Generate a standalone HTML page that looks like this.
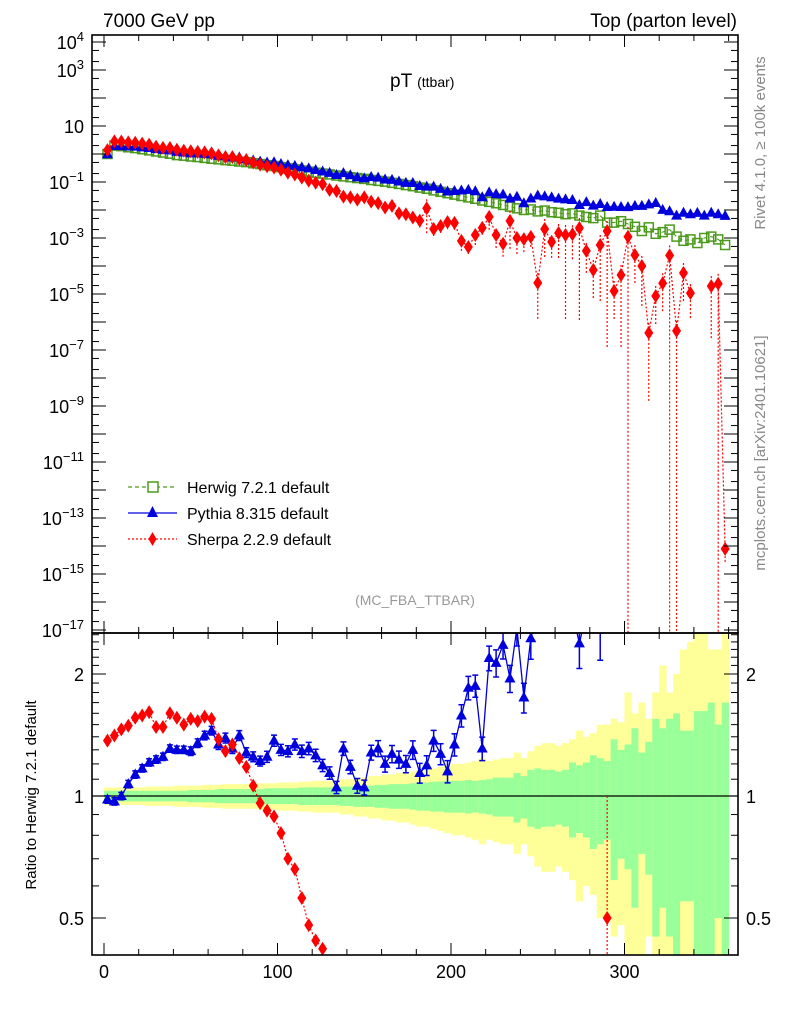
<!DOCTYPE html>
<html><head><meta charset="utf-8">
<style>
html,body{margin:0;padding:0;background:#fff;overflow:hidden;width:786px;height:1024px;}
svg{display:block;font-family:"Liberation Sans",sans-serif;overflow:hidden;}
</style></head>
<body>
<svg id="c" width="786" height="1024" viewBox="0 0 786 1024" xmlns="http://www.w3.org/2000/svg">
<defs>
<clipPath id="clipMain"><rect x="92" y="35" width="646" height="598"/></clipPath>
<clipPath id="clipRatio"><rect x="92" y="633" width="646" height="322"/></clipPath>
</defs>
<g id="bands" clip-path="url(#clipRatio)"></g>
<g id="marks"></g>
<g id="axes"></g>
<text x="103" y="27" font-size="19">7000 GeV pp</text>
<text x="737" y="27" font-size="19" text-anchor="end">Top (parton level)</text>
<text x="390" y="87" font-size="19">pT <tspan font-size="14">(ttbar)</tspan></text>
<text x="415" y="605" font-size="14" fill="#999" text-anchor="middle">(MC_FBA_TTBAR)</text>
<text transform="translate(765,143) rotate(-90)" font-size="15" fill="#888" text-anchor="middle">Rivet 4.1.0, ≥ 100k events</text>
<text transform="translate(765,453) rotate(-90)" font-size="15" fill="#888" text-anchor="middle">mcplots.cern.ch [arXiv:2401.10621]</text>
<text transform="translate(36,795) rotate(-90)" font-size="15" text-anchor="middle">Ratio to Herwig 7.2.1 default</text>
<g>
  <g>
    <line x1="128" y1="487" x2="177" y2="487" stroke="#4c9a1c" stroke-width="1.2" stroke-dasharray="4,3"/>
    <rect x="148" y="482" width="10" height="10" fill="#fff" stroke="#4c9a1c" stroke-width="1.5"/>
    <text x="187" y="493" font-size="16">Herwig 7.2.1 default</text>
  </g>
  <g>
    <line x1="128" y1="513" x2="177" y2="513" stroke="#0000dd" stroke-width="1.3"/>
    <polygon points="152.5,506 158,517 147,517" fill="#0000dd"/>
    <text x="187" y="519" font-size="16">Pythia 8.315 default</text>
  </g>
  <g>
    <line x1="128" y1="539" x2="177" y2="539" stroke="#ff0000" stroke-width="1.3" stroke-dasharray="2,2"/>
    <polygon points="152.5,532 156.5,539 152.5,546 148.5,539" fill="#ff0000"/>
    <text x="187" y="545" font-size="16">Sherpa 2.2.9 default</text>
  </g>
</g>
</svg>
<script>
// ---- data (4 GeV bins, centers 2..358) ----
const binCenters = [2,6,10,14,18,22,26,30,34,38,42,46,50,54,58,62,66,70,74,78,82,86,90,94,98,102,106,110,114,118,122,126,130,134,138,142,146,150,154,158,162,166,170,174,178,182,186,190,194,198,202,206,210,214,218,222,226,230,234,238,242,246,250,254,258,262,266,270,274,278,282,286,290,294,298,302,306,310,314,318,322,326,330,334,338,342,346,350,354,358];
const herwigLog10 = [0.00,0.30,0.28,0.24,0.21,0.17,0.13,0.09,0.05,0.01,
-0.04,-0.06,-0.09,-0.11,-0.14,-0.17,-0.19,-0.22,-0.24,-0.27,
-0.29,-0.33,-0.36,-0.40,-0.43,-0.47,-0.51,-0.55,-0.59,-0.63,
-0.67,-0.70,-0.73,-0.77,-0.80,-0.83,-0.86,-0.89,-0.93,-0.96,
-0.99,-1.03,-1.07,-1.11,-1.15,-1.20,-1.24,-1.30,-1.35,-1.40,
-1.45,-1.50,-1.55,-1.60,-1.66,-1.71,-1.76,-1.82,-1.88,-1.94,
-2.00,-1.98,-2.05,-2.02,-2.08,-2.10,-2.15,-2.12,-2.20,-2.25,
-2.29,-2.20,-2.45,-2.45,-2.40,-2.50,-2.60,-2.75,-2.62,-2.85,
-2.79,-2.70,-2.95,-3.10,-3.05,-3.18,-3.00,-2.95,-3.05,-3.25];
const pythiaRatio = [0.98,0.97,1.00,1.07,1.13,1.17,1.21,1.23,1.25,1.31,
1.30,1.30,1.29,1.35,1.41,1.45,1.34,1.39,1.31,1.41,
1.28,1.25,1.22,1.25,1.37,1.30,1.29,1.34,1.29,1.31,
1.26,1.19,1.14,1.05,1.31,1.18,1.06,1.05,1.28,1.31,
1.20,1.27,1.23,1.20,1.30,1.14,1.19,1.37,1.27,1.15,
1.34,1.58,1.85,1.87,1.31,2.19,2.13,2.36,1.95,2.60,
1.75,2.45,3.7,3.2,3.4,3.2,3.4,3.0,2.38,3.4,
2.8,2.6,3.6,3.7,3.2,4.0,5.6,7.9,6.6,12.6,
6.2,4.5,5.6,10,7.9,12,6.3,7.1,7.9,11];
const sherpaRatio = [1.37,1.41,1.46,1.49,1.56,1.58,1.61,1.48,1.48,1.60,
1.56,1.50,1.55,1.53,1.57,1.55,1.38,1.29,1.34,1.24,
1.18,1.06,0.96,0.92,0.89,0.81,0.70,0.66,0.56,0.48,
0.44,0.42,0.28,0.28,0.19,0.19,0.17,0.22,0.17,0.16,
0.12,0.15,0.089,0.091,0.076,0.066,0.20,0.042,0.060,0.093,
0.098,0.025,0.017,0.051,0.105,0.29,0.074,0.041,0.31,0.087,
0.091,0.105,0.0028,0.22,0.087,0.19,0.18,0.18,0.36,0.062,
0.014,0.089,0.5,0.0036,0.012,0.35,0.098,0.056,0.00017,0.006,
0.015,0.12,0.00043,0.071,0.012,null,null,0.017,0.026,1.4e-11];
const sherpaErrDownDecades = [0.05,0.05,0.05,0.05,0.05,0.05,0.05,0.05,0.05,0.05,
0.05,0.05,0.05,0.05,0.05,0.05,0.05,0.05,0.05,0.05,
0.05,0.05,0.05,0.05,0.05,0.05,0.05,0.05,0.05,0.05,
0.05,0.05,0.08,0.08,0.1,0.1,0.1,0.1,0.1,0.1,
0.15,0.15,0.2,0.2,0.2,0.3,0.9,0.3,0.3,0.3,
0.3,0.4,0.3,0.4,0.3,0.5,0.5,0.5,1.0,0.6,
0.5,0.4,1.3,1.0,0.6,0.9,3.0,0.9,3.3,0.8,
1.0,2.0,4.2,1.0,2.6,99,1.0,1.5,2.5,1.0,
1.0,99,99,1.0,0.9,0,0,1.9,99,0.5];
const bandGreen = [0.03,0.03,0.03,0.03,0.03,0.03,0.03,0.03,0.03,0.03,
0.03,0.03,0.035,0.035,0.035,0.035,0.04,0.04,0.04,0.04,
0.04,0.04,0.04,0.045,0.045,0.045,0.045,0.045,0.05,0.05,
0.05,0.05,0.05,0.05,0.055,0.055,0.06,0.06,0.06,0.065,
0.065,0.07,0.07,0.07,0.075,0.08,0.08,0.085,0.085,0.09,
0.09,0.09,0.095,0.09,0.095,0.10,0.11,0.11,0.11,0.14,
0.12,0.16,0.17,0.16,0.16,0.15,0.16,0.21,0.19,0.21,
0.26,0.24,0.22,0.38,0.30,0.34,0.47,0.28,0.36,0.55,
0.47,0.55,0.60,0.45,0.45,0.62,0.62,0.70,0.50,0.70];
const bandYellow = [0.05,0.05,0.05,0.05,0.05,0.05,0.055,0.055,0.055,0.055,
0.06,0.06,0.06,0.06,0.065,0.065,0.065,0.07,0.07,0.07,
0.07,0.07,0.075,0.075,0.075,0.08,0.08,0.08,0.085,0.085,
0.09,0.09,0.09,0.09,0.10,0.10,0.11,0.11,0.12,0.12,
0.13,0.13,0.14,0.14,0.15,0.16,0.16,0.17,0.18,0.19,
0.20,0.20,0.21,0.22,0.24,0.22,0.23,0.24,0.24,0.28,
0.24,0.29,0.33,0.35,0.35,0.33,0.35,0.38,0.45,0.40,
0.43,0.50,0.50,0.55,0.52,0.80,0.60,0.70,0.55,0.80,
1.10,0.80,1.00,1.30,1.40,1.60,1.60,1.30,1.30,1.60];
const xTickValues = [0,100,200,300];
const xTickLabels = ["0","100","200","300"];
const mainTickExps = [4,3,1,-1,-3,-5,-7,-9,-11,-13,-15,-17];
const ratioTickValues = [2,1,0.5];
const ratioTickLabels = ["2","1","0.5"];

// ---- axes functions ----
const BIN_W = 4;
const X0 = 104, XS = 1.735;
const L = 92, R = 738, MT = 35, MB = 633, RT = 633, RB = 955;
function xp(v){ return X0 + XS*v; }
function yMain(lg){ return 42 + (4 - lg)*28; }
function yRatio(r){ return 796 - 122*Math.log2(r); }
const NS = "http://www.w3.org/2000/svg";
function mk(tag, attrs, parent){
  const e = document.createElementNS(NS, tag);
  for (const k in attrs) e.setAttribute(k, attrs[k]);
  parent.appendChild(e); return e;
}
const bands = document.getElementById('bands');
const marks = document.getElementById('marks');
const axes = document.getElementById('axes');

for (let i=0;i<binCenters.length;i++){
  const xa = xp(binCenters[i]-BIN_W/2), xb = xp(binCenters[i]+BIN_W/2);
  const yy = bandYellow[i], gg = bandGreen[i];
  const yt = Math.max(yRatio(1+yy), RT), yb = (1-yy)>0.4 ? yRatio(1-yy) : RB;
  const r1 = mk('rect',{x:xa,y:yt,width:xb-xa+0.4,height:yb-yt,fill:'#ffff99'},bands);
  
  
  const gt = Math.max(yRatio(1+gg), RT), gb = (1-gg)>0.4 ? yRatio(1-gg) : RB;
  const r2 = mk('rect',{x:xa,y:gt,width:xb-xa+0.4,height:gb-gt,fill:'#99ff99'},bands);
  
  
}
const one = mk('line',{x1:L,x2:R,y1:yRatio(1),y2:yRatio(1),stroke:'#000','stroke-width':1.2},marks);



const gMain = mk('g',{'clip-path':'url(#clipMain)'},marks);


const gRatio = mk('g',{'clip-path':'url(#clipRatio)'},marks);



function polyline(parent, pts, stroke, dash, w){
  let d=''; let pen=false;
  pts.forEach(p=>{ if(p===null){pen=false;return;} d += (pen?'L':'M')+p[0].toFixed(1)+','+p[1].toFixed(1); pen=true; });
  const a = {d:d,fill:'none',stroke:stroke,'stroke-width':w||1.2};
  if (dash) a['stroke-dasharray']=dash;
  return mk('path',a,parent);
}
function tri(parent,x,y,c){ return mk('polygon',{points:`${x},${y-6} ${x+5.5},${y+4} ${x-5.5},${y+4}`,fill:c},parent); }
function dia(parent,x,y,c){ return mk('polygon',{points:`${x},${y-7} ${x+4.5},${y} ${x},${y+7} ${x-4.5},${y}`,fill:c},parent); }

const hPts = binCenters.map((c,i)=>[xp(c), yMain(herwigLog10[i])]);
const hl = polyline(gMain,hPts,'#4c9a1c','4,3',1.1);


hPts.forEach(p=>{
  const s = mk('rect',{x:p[0]-4.5,y:p[1]-4.5,width:9,height:9,fill:'none',stroke:'#4c9a1c','stroke-width':1.5},gMain);
  
  
});
const pPts = binCenters.map((c,i)=>[xp(c), yMain(herwigLog10[i]+Math.log10(pythiaRatio[i]))]);
const pl = polyline(gMain,pPts,'#0000dd',null,1.3);


pPts.forEach(p=>{
  const t = tri(gMain,p[0],p[1],'#0000dd');
  
  
});
const sPts = binCenters.map((c,i)=> sherpaRatio[i]===null ? null : [xp(c), yMain(herwigLog10[i]+Math.log10(sherpaRatio[i]))]);
const sl = polyline(gMain,sPts,'#ff0000','2,2',1.2);


sPts.forEach((p,i)=>{
  if(!p) return;
  const ed = sherpaErrDownDecades[i];
  const yb = ed>=50 ? MB : Math.min(p[1]+ed*28, MB);
  const eb = mk('line',{x1:p[0],x2:p[0],y1:p[1]-Math.min(ed,1)*10,y2:yb,stroke:'#ff0000','stroke-width':1.2,'stroke-dasharray':'2,2'},gMain);
  
  
  const d = dia(gMain,p[0],p[1],'#ff0000');
  
  
});

const prPts = binCenters.map((c,i)=>[xp(c), Math.max(yRatio(pythiaRatio[i]), RT-20)]);
const prl = polyline(gRatio,prPts,'#0000dd',null,1.3);


prPts.forEach((p,i)=>{
  if (pythiaRatio[i] > 2.6) return;
  const e = pythiaRatio[i]*bandGreen[i]*0.7;
  const y1 = Math.max(yRatio(pythiaRatio[i]+e), RT), y2 = yRatio(Math.max(pythiaRatio[i]-e,0.3));
  const eb = mk('path',{d:`M${p[0]},${y1}V${y2}M${p[0]-3},${y1}h6M${p[0]-3},${y2}h6`,stroke:'#0000dd','stroke-width':1.5,fill:'none'},gRatio);
  
  
  const t = tri(gRatio,p[0],p[1],'#0000dd');
  
  
});
const srPts = binCenters.map((c,i)=> (sherpaRatio[i]===null || sherpaRatio[i]<0.3) ? null : [xp(c), yRatio(sherpaRatio[i])]);
const srl = polyline(gRatio,srPts.slice(0,40),'#ff0000','2,2',1.2);


srPts.forEach((p,i)=>{
  if(!p) return;
  if (sherpaErrDownDecades[i]>=1 && sherpaRatio[i]>=0.4){
    const eb = mk('line',{x1:p[0],x2:p[0],y1:yRatio(1),y2:RB,stroke:'#ff0000','stroke-width':1.2,'stroke-dasharray':'2,2'},gRatio);
    
    
  }
  if (p[1] > RB+8) return;
  const d = dia(gRatio,p[0],p[1],'#ff0000');
  
  
});

function ln(x1,y1,x2,y2,w){ return mk('line',{x1:x1,y1:y1,x2:x2,y2:y2,stroke:'#000','stroke-width':w||1},axes); }
const f1 = mk('rect',{x:L,y:MT,width:R-L,height:MB-MT,fill:'none',stroke:'#000','stroke-width':1.6},axes);


const f2 = mk('rect',{x:L,y:RT,width:R-L,height:RB-RT,fill:'none',stroke:'#000','stroke-width':1.6},axes);


for (let v=0; v<=360; v+=20){
  const x = xp(v), maj = v%100===0, len = maj?12:6;
  [MT,RT].forEach(y=>ln(x,y,x,y+len));
  [MB,RB].forEach(y=>ln(x,y,x,y-len));
}
xTickValues.forEach((v,i)=>{
  const t = mk('text',{x:xp(v),y:978,'font-size':18,'text-anchor':'middle'},axes);
  t.textContent = xTickLabels[i];
  
  
});
for (let e=4; e>=-17; e--){
  const y = yMain(e);
  ln(L,y,L+14,y); ln(R,y,R-14,y);
  if (e>-17){ [2,5].forEach(m=>{ const yy=yMain(e-1+Math.log10(m)); if(yy>MT&&yy<MB){ln(L,yy,L+7,yy); ln(R,yy,R-7,yy);} }); }
}
mainTickExps.forEach(e=>{
  const t = mk('text',{x:L-8,y:yMain(e)+7,'font-size':18,'text-anchor':'end'},axes);
  
  
  if (e===1){ t.textContent='10'; }
  else { t.textContent='10'; const s = mk('tspan',{dy:-8,'font-size':13},t); s.textContent=String(e).replace('-','−'); }
});
[0.4,0.5,0.6,0.7,0.8,0.9,1,1.1,1.2,1.3,1.4,1.5,1.6,1.7,1.8,1.9,2,2.1,2.2,2.3,2.4,2.5].forEach(r=>{
  const y = yRatio(r); if (y<=RT||y>=RB) return;
  const maj = (r===0.5||r===1||r===2); const len = maj?14:7;
  ln(L,y,L+len,y); ln(R,y,R-len,y);
});
ratioTickValues.forEach((v,i)=>{
  const t = mk('text',{x:L-8,y:yRatio(v)+7,'font-size':18,'text-anchor':'end'},axes);
  t.textContent = ratioTickLabels[i];
  
  
  const t2 = mk('text',{x:R+8,y:yRatio(v)+7,'font-size':18,'text-anchor':'start'},axes);
  t2.textContent = ratioTickLabels[i];
  
  
});
</script>
</body></html>
